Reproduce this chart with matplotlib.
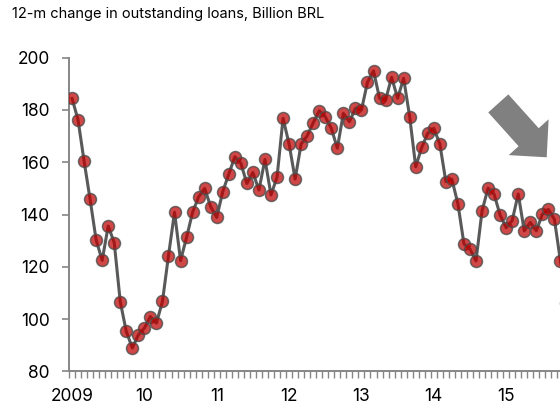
import matplotlib
matplotlib.use('Agg')
import matplotlib.pyplot as plt
from matplotlib.patches import FancyArrow

plt.rcParams['font.family'] = ['Inter', 'Liberation Sans', 'DejaVu Sans']

# monthly 12-m change in outstanding loans, from Jan 2009
loans = [184.5, 176.2, 160.5, 145.8, 130.3, 122.5, 135.6, 129.3, 106.7, 95.3, 89.0, 94.0,
         96.6, 101.0, 98.5, 106.8, 124.3, 140.9, 122.4, 131.3, 140.9, 146.8, 150.0, 143.0,
         138.9, 148.8, 155.5, 162.1, 159.6, 151.9, 156.1, 149.4, 161.1, 147.5, 154.3, 176.8,
         167.0, 153.6, 167.0, 170.1, 175.1, 179.7, 177.4, 173.0, 165.4, 178.7, 175.5, 180.6,
         180.0, 190.6, 195.0, 184.5, 183.8, 192.5, 184.5, 192.1, 177.4, 158.3, 165.7, 171.1,
         173.0, 167.0, 152.6, 153.5, 144.1, 128.8, 126.8, 122.3, 141.4, 150.1, 147.8, 139.8,
         135.0, 137.7, 147.9, 133.8, 137.0, 133.8, 140.1, 142.0, 138.2, 122.3, 106.0]
year_labels = ['2009', '10', '11', '12', '13', '14', '15']
y_ticks = [80, 100, 120, 140, 160, 180, 200]

fig = plt.figure(figsize=(5.6, 4.08), dpi=100)
# axes runs past the right edge of the picture, like the cropped original
ax = fig.add_axes([69 / 560, 0.0895, 506.5 / 560, 0.7691])

x = list(range(len(loans)))
ax.plot(x, loans, color='#595959', lw=2.2, zorder=2, solid_capstyle='round')
ax.plot(x, loans, ls='none', marker='o', ms=8.6,
        mfc=(0.75, 0.0, 0.0, 0.72), mec=(0.3, 0.3, 0.3, 0.8), mew=1.1, zorder=3)

ax.set_xlim(-0.5, 83.5)
ax.set_ylim(80, 200)
ax.set_yticks(y_ticks)
ax.set_xticks([12 * i for i in range(len(year_labels))])
ax.set_xticklabels(year_labels)
ax.set_xticks([i - 0.5 for i in range(len(loans) + 1)], minor=True)

for side in ['top', 'right']:
    ax.spines[side].set_visible(False)
for side in ['left', 'bottom']:
    ax.spines[side].set_color('#868686')
    ax.spines[side].set_linewidth(1.4)

ax.tick_params(axis='y', direction='out', length=5, width=1.2, color='#868686',
               labelsize=12.5, pad=9)
ax.tick_params(axis='x', which='major', length=0, labelsize=12.5, pad=12)
ax.tick_params(axis='x', which='minor', direction='out', length=5, width=1, color='#868686')

fig.text(12 / 560, 1 - 14 / 408, '12-m change in outstanding loans, Billion BRL',
         fontsize=10.5, va='center', ha='left')

# big grey arrow pointing down-right
arrow = FancyArrow(4.983, 3.046, 0.484, -0.539, width=0.27, head_width=0.536,
                   head_length=0.27, length_includes_head=True, color='#808080',
                   lw=0, transform=fig.dpi_scale_trans)
fig.patches.append(arrow)

fig.savefig('out.png', dpi=100)
